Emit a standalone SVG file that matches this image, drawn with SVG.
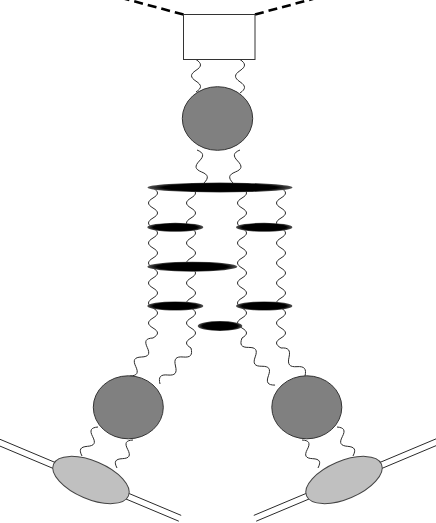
<svg xmlns="http://www.w3.org/2000/svg" width="436" height="523" viewBox="0 0 436 523">
<defs>
<radialGradient id="blk" cx="0.5" cy="0.5" r="0.5">
<stop offset="0" stop-color="#000"/>
<stop offset="0.78" stop-color="#000"/>
<stop offset="1" stop-color="#555"/>
</radialGradient>
<style>
.w{fill:none;stroke:#2a2a2a;stroke-width:1}
.d{fill:none;stroke:#000;stroke-width:2.6;stroke-dasharray:9 5}
.f{fill:none;stroke:#2a2a2a;stroke-width:1}
.bl{fill:url(#blk);stroke:none}
.dk{fill:#808080;stroke:#333;stroke-width:1}
.lt{fill:#c0c0c0;stroke:#444;stroke-width:1}
.box{fill:#fff;stroke:#333;stroke-width:1}
</style>
</defs>
<g id="connectors">
<path class="d" d="M183.5,14.5 L118,-3"/>
<path class="d" d="M255,14.5 L320,-3"/>
<path class="w" d="M196,59.5 c6,3.9 6,6.93 0,10.83 c-6,3.9 -6,6.93 0,10.83 c6,3.9 6,6.93 0,10.83"/>
<path class="w" d="M240,59.5 c6,4 6,7.15 0,11.17 c-6,4 -6,7.15 0,11.17 c6,4 6,7.15 0,11.17"/>
<path class="w" d="M197,150 c6.71,2.71 7.37,5.79 2.34,11 c-5.03,5.21 -4.37,8.29 2.34,11 c6.71,2.71 7.37,5.79 2.34,11"/>
<path class="w" d="M240,150 c-6.71,2.71 -7.37,5.79 -2.34,11 c5.03,5.21 4.37,8.29 -2.34,11 c-6.71,2.71 -7.37,5.79 -2.34,11"/>
<path class="w" d="M153,188 c6,3.6 6,6.4 0,10 c-6,3.6 -6,6.4 0,10 c6,3.6 6,6.4 0,10 c-6,3.6 -6,6.4 0,10 c6,3.6 6,6.4 0,10 c-6,3.6 -6,6.4 0,10 c6,3.6 6,6.4 0,10 c-6,3.6 -6,6.4 0,10 c6,3.6 6,6.4 0,10 c-6,3.6 -6,6.4 0,10 c6,3.6 6,6.4 0,10 c-6,3.6 -6,6.4 0,10 c6,3.6 6,6.4 0,10 c-6,3.6 -6,6.4 0,10 c6,3.6 6,6.4 0,10 c-7.21,0.31 -8.82,2.97 -5.75,9.5 c3.07,6.53 1.46,9.19 -5.75,9.5 c-7.21,0.31 -8.82,2.97 -5.75,9.5 c3.07,6.53 1.46,9.19 -5.75,9.5"/>
<path class="w" d="M191,188 c6,3.6 6,6.4 0,10 c-6,3.6 -6,6.4 0,10 c6,3.6 6,6.4 0,10 c-6,3.6 -6,6.4 0,10 c6,3.6 6,6.4 0,10 c-6,3.6 -6,6.4 0,10 c6,3.6 6,6.4 0,10 c-6,3.6 -6,6.4 0,10 c6,3.6 6,6.4 0,10 c-6,3.6 -6,6.4 0,10 c6,3.6 6,6.4 0,10 c-6,3.6 -6,6.4 0,10 c6,3.6 6,6.4 0,10 c-6,3.6 -6,6.4 0,10 c6,3.6 6,6.4 0,10 c-6,3.6 -6,6.4 0,10 c1.76,7.16 -0.41,9.68 -7.75,9 c-7.34,-0.68 -9.51,1.84 -7.75,9 c1.76,7.16 -0.41,9.68 -7.75,9 c-7.34,-0.68 -9.51,1.84 -7.75,9"/>
<path class="w" d="M242,188 c6,3.6 6,6.4 0,10 c-6,3.6 -6,6.4 0,10 c6,3.6 6,6.4 0,10 c-6,3.6 -6,6.4 0,10 c6,3.6 6,6.4 0,10 c-6,3.6 -6,6.4 0,10 c6,3.6 6,6.4 0,10 c-6,3.6 -6,6.4 0,10 c6,3.6 6,6.4 0,10 c-6,3.6 -6,6.4 0,10 c6,3.6 6,6.4 0,10 c-6,3.6 -6,6.4 0,10 c6,3.6 6,6.4 0,10 c-6,3.6 -6,6.4 0,10 c6,3.6 6,6.4 0,10 c-2.53,6.84 -0.68,9.48 6.61,9.42 c7.29,-0.06 9.14,2.58 6.61,9.42 c-2.53,6.84 -0.68,9.48 6.61,9.42 c7.29,-0.06 9.14,2.58 6.61,9.42 c-2.53,6.84 -0.68,9.48 6.61,9.42"/>
<path class="w" d="M281,188 c6,3.6 6,6.4 0,10 c-6,3.6 -6,6.4 0,10 c6,3.6 6,6.4 0,10 c-6,3.6 -6,6.4 0,10 c6,3.6 6,6.4 0,10 c-6,3.6 -6,6.4 0,10 c6,3.6 6,6.4 0,10 c-6,3.6 -6,6.4 0,10 c6,3.6 6,6.4 0,10 c-6,3.6 -6,6.4 0,10 c6,3.6 6,6.4 0,10 c-6,3.6 -6,6.4 0,10 c6,3.6 6,6.4 0,10 c-6,3.6 -6,6.4 0,10 c6,3.6 6,6.4 0,10 c-6,3.6 -6,6.4 0,10 c7.43,-0.54 9.67,2.07 8,9.33 c-1.67,7.26 0.57,9.87 8,9.33 c7.43,-0.54 9.67,2.07 8,9.33"/>
<g id="lower-left-lines">
<path class="w" d="M98,427 c-7.18,0.58 -8.67,3.29 -5.33,9.67 c3.34,6.38 1.85,9.09 -5.33,9.67 c-7.18,0.58 -8.67,3.29 -5.33,9.67"/>
<path class="w" d="M133,440 c-7.14,0.39 -8.64,3.01 -5.33,9.33 c3.3,6.35 1.8,8.97 -5.33,9.33 c-7.14,0.39 -8.64,3.01 -5.33,9.33"/>
<path class="f" d="M-5,437.2 L181.2,515.4"/>
<path class="f" d="M-5,444 L178.8,521.2"/>
</g>
<g id="lower-right-lines" transform="matrix(-1 0 0 1 435 0)">
<path class="w" d="M98,427 c-7.18,0.58 -8.67,3.29 -5.33,9.67 c3.34,6.38 1.85,9.09 -5.33,9.67 c-7.18,0.58 -8.67,3.29 -5.33,9.67"/>
<path class="w" d="M133,440 c-7.14,0.39 -8.64,3.01 -5.33,9.33 c3.3,6.35 1.8,8.97 -5.33,9.33 c-7.14,0.39 -8.64,3.01 -5.33,9.33"/>
<path class="f" d="M-5,437.2 L181.2,515.4"/>
<path class="f" d="M-5,444 L178.8,521.2"/>
</g>
</g>
<g id="box"><rect class="box" x="183.5" y="14.5" width="71.5" height="45"/></g>
<g id="blob-top"><ellipse class="dk" cx="217.5" cy="118.5" rx="35.2" ry="31.8"/></g>
<g id="bar-top"><ellipse class="bl" cx="220" cy="187.5" rx="72.5" ry="5"/></g>
<g id="bar-1l"><ellipse class="bl" cx="175.3" cy="227.3" rx="28" ry="4.5"/></g>
<g id="bar-1r"><ellipse class="bl" cx="264.2" cy="227.3" rx="28.2" ry="4.5"/></g>
<g id="bar-2"><ellipse class="bl" cx="192.3" cy="266.7" rx="45" ry="5"/></g>
<g id="bar-3l"><ellipse class="bl" cx="175.3" cy="306" rx="28" ry="4.5"/></g>
<g id="bar-3r"><ellipse class="bl" cx="264.2" cy="306" rx="28.2" ry="4.5"/></g>
<g id="bar-4"><ellipse class="bl" cx="220" cy="326" rx="22.3" ry="5"/></g>
<g id="blob-left"><ellipse class="dk" cx="128.3" cy="407.3" rx="35" ry="31.5"/></g>
<g id="blob-right"><ellipse class="dk" cx="306.8" cy="407.3" rx="35" ry="31.5"/></g>
<g id="vertex-left"><ellipse class="lt" cx="0" cy="0" rx="40.7" ry="19" transform="translate(91 480) rotate(23)"/></g>
<g id="vertex-right"><ellipse class="lt" cx="0" cy="0" rx="40.7" ry="19" transform="translate(344 480) rotate(-23)"/></g>
</svg>
